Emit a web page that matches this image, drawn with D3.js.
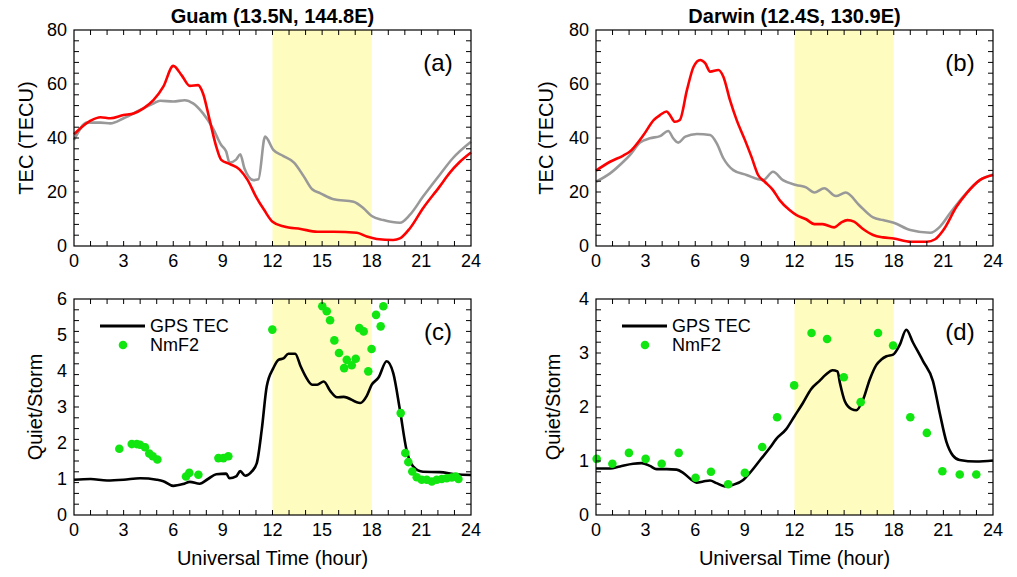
<!DOCTYPE html>
<html>
<head>
<meta charset="utf-8">
<script src="https://cdn.jsdelivr.net/npm/d3@7"></script>
<style>
    body { margin: 0; background: #fff; }
    text { font-family: "Liberation Sans", Arial, Helvetica, sans-serif; }
</style>
</head>
<body>
<div id="chart"></div>
<script>
// tick labels
const hourTicks = [0, 3, 6, 9, 12, 15, 18, 21, 24];
const tecTicks = [0, 20, 40, 60, 80];
const guamRatioTicks = [0, 1, 2, 3, 4, 5, 6];
const darwinRatioTicks = [0, 1, 2, 3, 4];
const stormWindow = [12, 18];

// (a) Guam TEC, [hour, TECU]
const guamStormTec = [[0, 41.4], [1, 46.4], [1.6, 47.7], [2.2, 47.3], [3, 48.5], [3.6, 49.1], [4.2, 51], [4.8, 54], [5.4, 59],
    [6, 66.7], [6.5, 63.3], [7, 59.3], [7.5, 59.6], [7.8, 56.5], [8.2, 46.7], [8.6, 36.8], [8.9, 31.9], [9.4, 30.4], [10, 28.4],
    [10.5, 24.4], [11, 18.3], [11.5, 13.3], [12, 9], [12.7, 7.2], [13.7, 6.3], [14.7, 5.3], [15.7, 5.3], [17.1, 4.9], [17.7, 3.5],
    [18.3, 2.6], [19.3, 2.2], [19.7, 2.8], [20.3, 6.5], [21.1, 14], [22.1, 22], [22.7, 27], [23.3, 31], [24, 34.6]];
const guamQuietTec = [[0, 39.3], [0.8, 45.7], [1.6, 45.7], [2.2, 45.4], [3, 47.3], [4, 50.4], [4.8, 52.8], [5.2, 53.8], [6, 53.5],
    [6.7, 54], [7.2, 52.8], [7.8, 49.1], [8.4, 43.6], [8.9, 37.4], [9.2, 35], [9.4, 30.9], [9.8, 32], [10.05, 34], [10.3, 28.8],
    [10.85, 24.4], [11.15, 24.7], [11.55, 40.5], [12.05, 35.6], [12.66, 33.3], [13.3, 30.9], [13.9, 25.7], [14.4, 21], [14.9, 19.5],
    [15.7, 17.3], [16.9, 16.4], [17.5, 14], [18, 11.1], [18.7, 9.6], [19.7, 8.6], [20.3, 11.5], [21.1, 18.3], [22.1, 26.3],
    [22.9, 32.5], [24, 38.6]];

// (b) Darwin TEC
const darwinStormTec = [[0, 27.9], [0.85, 31.2], [1.65, 33.5], [2.05, 35], [2.86, 41], [3.5, 46.7], [3.87, 48.5], [4.27, 49.8],
    [4.47, 48.5], [4.77, 46], [5.07, 46.7], [5.5, 57.8], [5.9, 66.4], [6.3, 68.9], [6.6, 67.7], [6.9, 64.6], [7.4, 65.2], [7.7, 62.7],
    [8.1, 54], [8.5, 46.7], [9, 39.3], [9.4, 33], [9.8, 26.3], [10.2, 23.8], [10.7, 20.7], [11.1, 17], [11.7, 13.3], [12.1, 11.5],
    [12.7, 9.9], [13.2, 8.1], [13.7, 8.1], [14.4, 6.9], [14.8, 8.6], [15.2, 9.6], [15.6, 9], [16.1, 6.5], [16.75, 4.1], [17.35, 3.2],
    [18, 2.8], [19, 1.6], [20, 1.6], [20.5, 2.5], [21, 5.9], [21.8, 14.6], [22.4, 19.5], [23.2, 24.4], [24, 26.3]];
const darwinQuietTec = [[0, 23.8], [0.85, 26.9], [1.65, 31.2], [2.05, 33.7], [2.66, 38.3], [3.26, 39.9], [3.87, 40.7], [4.37, 42.6],
    [4.67, 39.9], [4.97, 38.3], [5.4, 40.5], [6.1, 41.5], [6.9, 41.1], [7.3, 38], [7.7, 32.5], [8.3, 28.1], [9.1, 26.3], [10.1, 24.4],
    [10.7, 27.5], [11.3, 24.4], [12.1, 22.6], [12.7, 21.7], [13.2, 19.8], [13.8, 21.4], [14.5, 18.5], [15.1, 19.8], [15.9, 15.2],
    [16.75, 10.6], [17.35, 9.6], [18, 8.6], [19, 5.9], [20.2, 4.9], [20.8, 7.2], [21.4, 12.1], [22.2, 18.3], [23.2, 24.4], [24, 26.5]];

// (c) Guam quiet/storm ratio
const guamTecRatio = [[0, 0.98], [1, 1.0], [2, 0.96], [3, 0.98], [4, 1.02], [5, 0.98], [5.4, 0.94], [6, 0.81], [6.6, 0.86], [7, 0.92],
    [7.6, 0.87], [8.1, 1.0], [8.6, 1.13], [9.2, 1.15], [9.4, 1.02], [9.8, 1.07], [10.05, 1.22], [10.35, 1.09], [10.75, 1.21],
    [11.05, 1.44], [11.35, 2.37], [11.65, 3.57], [12.05, 4.08], [12.36, 4.31], [12.66, 4.35], [12.96, 4.48], [13.37, 4.48],
    [13.7, 4.13], [14, 3.85], [14.4, 3.62], [14.7, 3.62], [15.1, 3.71], [15.5, 3.44], [15.9, 3.27], [16.3, 3.28], [17.3, 3.11],
    [17.7, 3.31], [18, 3.62], [18.4, 3.81], [18.9, 4.27], [19.3, 3.94], [19.7, 2.93], [20.1, 1.81], [20.5, 1.35], [21.1, 1.2],
    [22.1, 1.19], [23.1, 1.13], [24, 1.11]];
const guamNmF2Ratio = [[2.74, 1.84], [3.49, 1.97], [3.79, 1.97], [3.99, 1.95], [4.29, 1.88], [4.55, 1.71], [4.76, 1.63], [5.04, 1.54],
    [6.77, 1.07], [6.97, 1.17], [7.52, 1.12], [8.73, 1.58], [9.03, 1.58], [9.33, 1.63], [11.99, 5.15], [15.01, 5.8], [15.28, 5.66],
    [15.48, 5.41], [15.74, 4.85], [16.02, 4.5], [16.49, 4.31], [16.33, 4.08], [16.79, 4.16], [17.03, 4.34], [17.25, 5.19],
    [17.51, 5.1], [17.79, 3.99], [17.99, 4.61], [18.26, 5.56], [18.54, 5.24], [18.7, 5.8], [19.75, 2.83], [20.03, 1.72],
    [20.21, 1.47], [20.45, 1.21], [20.72, 1.05], [21.02, 0.98], [21.32, 0.98], [21.63, 0.93], [21.93, 0.98], [22.23, 1.0],
    [22.53, 1.02], [22.84, 1.04], [23.08, 1.07], [23.24, 1.0]];

// (d) Darwin quiet/storm ratio
const darwinTecRatio = [[0, 0.86], [0.85, 0.86], [1.45, 0.9], [2.25, 0.95], [2.76, 0.96], [3.26, 0.91], [3.66, 0.85], [4.27, 0.85],
    [4.87, 0.84], [5.27, 0.78], [5.78, 0.65], [6.08, 0.6], [6.48, 0.62], [6.89, 0.64], [7.29, 0.59], [7.79, 0.53], [8.3, 0.56],
    [8.9, 0.65], [9.3, 0.78], [9.9, 1.01], [10.5, 1.24], [10.9, 1.41], [11.5, 1.59], [12, 1.83], [12.5, 2.07], [13, 2.33],
    [13.5, 2.48], [13.9, 2.6], [14.3, 2.68], [14.6, 2.66], [14.75, 2.44], [15.05, 2.1], [15.45, 1.96], [15.74, 1.94], [16.15, 2.14],
    [16.55, 2.51], [16.95, 2.78], [17.25, 2.88], [17.56, 2.94], [17.96, 2.97], [18.36, 3.15], [18.76, 3.43], [19.17, 3.19],
    [19.77, 2.85], [20.37, 2.48], [20.78, 1.89], [21.18, 1.36], [21.58, 1.1], [21.98, 1.02], [22.99, 0.99], [24, 1.01]];
const darwinNmF2Ratio = [[0.04, 1.04], [0.99, 0.95], [1.99, 1.15], [3, 1.04], [3.97, 0.95], [5, 1.15], [6.02, 0.69], [6.95, 0.8],
    [7.99, 0.57], [9, 0.78], [10.05, 1.26], [10.95, 1.81], [11.98, 2.4], [13.03, 3.37], [13.97, 3.26], [14.98, 2.55], [16, 2.09],
    [17.05, 3.37], [17.96, 3.14], [19, 1.81], [20, 1.52], [20.94, 0.81], [21.99, 0.75], [22.99, 0.75]];

const width = 1017;
const height = 577;
const panelW = 397;
const panelH = 216;

const svg = d3.select('#chart')
    .append('svg')
    .attr('width', width)
    .attr('height', height);

function drawPanel(opt) {
    const g = svg.append('g').attr('transform', `translate(${opt.left},${opt.top})`);

    const xScale = d3.scaleLinear().domain([0, 24]).range([0, panelW]);
    const yScale = d3.scaleLinear().domain([0, opt.yMax]).range([panelH, 0]);

    /* storm window band */
    g.append('rect')
        .attr('x', xScale(stormWindow[0]))
        .attr('y', 0)
        .attr('width', xScale(stormWindow[1]) - xScale(stormWindow[0]))
        .attr('height', panelH)
        .attr('fill', '#fffcbf');

    /* lines */
    const line = d3.line()
        .x(d => xScale(d[0]))
        .y(d => yScale(d[1]))
        .curve(d3.curveMonotoneX);

    opt.lines.forEach(l => {
        g.append('path')
            .datum(l.data)
            .attr('fill', 'none')
            .attr('stroke', l.color)
            .attr('stroke-width', 2.6)
            .attr('stroke-linejoin', 'round')
            .attr('d', line);
    });

    /* NmF2 dots */
    if (opt.dots) {
        g.selectAll('circle.nmf2')
            .data(opt.dots)
            .enter()
            .append('circle')
            .attr('class', 'nmf2')
            .attr('cx', d => xScale(d[0]))
            .attr('cy', d => yScale(d[1]))
            .attr('r', 4.3)
            .attr('fill', '#11e611');
    }

    /* frame */
    g.append('rect')
        .attr('width', panelW)
        .attr('height', panelH)
        .attr('fill', 'none')
        .attr('stroke', '#000')
        .attr('stroke-width', 1.2);

    /* minor ticks, all four sides, pointing in */
    const tickLen = 5;
    const xMinor = d3.range(1, 24);
    const yMinor = d3.range(1, 20).map(i => i * opt.yMax / 20);
    xMinor.forEach(h => {
        const x = xScale(h);
        g.append('line').attr('x1', x).attr('x2', x).attr('y1', panelH).attr('y2', panelH - tickLen).attr('stroke', '#000');
        g.append('line').attr('x1', x).attr('x2', x).attr('y1', 0).attr('y2', tickLen).attr('stroke', '#000');
    });
    yMinor.forEach(v => {
        const y = yScale(v);
        g.append('line').attr('x1', 0).attr('x2', tickLen).attr('y1', y).attr('y2', y).attr('stroke', '#000');
        g.append('line').attr('x1', panelW).attr('x2', panelW - tickLen).attr('y1', y).attr('y2', y).attr('stroke', '#000');
    });

    /* tick labels */
    g.selectAll('text.xt')
        .data(hourTicks)
        .enter()
        .append('text')
        .attr('class', 'xt')
        .attr('x', d => xScale(d))
        .attr('y', panelH + 21)
        .attr('text-anchor', 'middle')
        .style('font-size', '18px')
        .text(d => d);

    g.selectAll('text.yt')
        .data(opt.yTicks)
        .enter()
        .append('text')
        .attr('class', 'yt')
        .attr('x', -7)
        .attr('y', d => yScale(d) + 6)
        .attr('text-anchor', 'end')
        .style('font-size', '18px')
        .text(d => d);

    /* panel letter */
    g.append('text')
        .text(opt.letter)
        .attr('x', panelW - 33)
        .attr('y', 41)
        .attr('text-anchor', 'middle')
        .style('font-size', '24px');

    /* title */
    if (opt.title) {
        g.append('text')
            .text(opt.title)
            .attr('x', panelW / 2)
            .attr('y', -7)
            .attr('text-anchor', 'middle')
            .style('font-size', '20px')
            .style('font-weight', 'bold');
    }

    /* y Label */
    g.append('text')
        .text(opt.yTitle)
        .attr('transform', `translate(${opt.yTitleX},${panelH / 2}) rotate(-90)`)
        .attr('text-anchor', 'middle')
        .style('font-size', '20px');

    /* x Label */
    if (opt.xTitle) {
        g.append('text')
            .text('Universal Time (hour)')
            .attr('x', panelW / 2)
            .attr('y', panelH + 50)
            .attr('text-anchor', 'middle')
            .style('font-size', '20px');
    }

    /* legend */
    if (opt.legend) {
        g.append('line')
            .attr('x1', 26).attr('x2', 71)
            .attr('y1', 27).attr('y2', 27)
            .attr('stroke', '#000')
            .attr('stroke-width', 3);
        g.append('text').text('GPS TEC').attr('x', 76).attr('y', 33).style('font-size', '18px');
        g.append('circle').attr('cx', 49).attr('cy', 46).attr('r', 4.3).attr('fill', '#11e611');
        g.append('text').text('NmF2').attr('x', 76).attr('y', 52).style('font-size', '18px');
    }
}

drawPanel({
    left: 74, top: 30, yMax: 80, yTicks: tecTicks, letter: '(a)', title: 'Guam (13.5N, 144.8E)',
    yTitle: 'TEC (TECU)', yTitleX: -41,
    lines: [{ data: guamQuietTec, color: '#999999' }, { data: guamStormTec, color: '#ff0000' }]
});
drawPanel({
    left: 596, top: 30, yMax: 80, yTicks: tecTicks, letter: '(b)', title: 'Darwin (12.4S, 130.9E)',
    yTitle: 'TEC (TECU)', yTitleX: -43,
    lines: [{ data: darwinQuietTec, color: '#999999' }, { data: darwinStormTec, color: '#ff0000' }]
});
drawPanel({
    left: 74, top: 299, yMax: 6, yTicks: guamRatioTicks, letter: '(c)', xTitle: true, legend: true,
    yTitle: 'Quiet/Storm', yTitleX: -32,
    lines: [{ data: guamTecRatio, color: '#000' }], dots: guamNmF2Ratio
});
drawPanel({
    left: 596, top: 299, yMax: 4, yTicks: darwinRatioTicks, letter: '(d)', xTitle: true, legend: true,
    yTitle: 'Quiet/Storm', yTitleX: -36,
    lines: [{ data: darwinTecRatio, color: '#000' }], dots: darwinNmF2Ratio
});
</script>
</body>
</html>
